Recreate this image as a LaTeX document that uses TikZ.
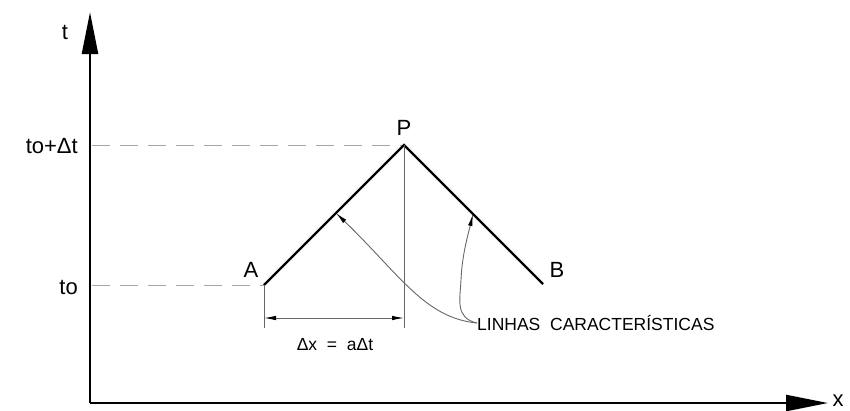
\documentclass[tikz,border=0pt]{standalone}
\usepackage{fontspec}
\setmainfont{Liberation Sans}
\usetikzlibrary{arrows.meta}
\begin{document}
\begin{tikzpicture}[x=1pt,y=-1pt,
  axis/.style={line width=2.4pt,-{Triangle[length=42pt,width=16pt]}},
  charline/.style={line width=2.4pt},
  thinline/.style={line width=0.9pt,gray!80!black},
  guide/.style={line width=1pt,gray!70,dash pattern=on 18pt off 10pt},
  dimarrow/.style={line width=0.9pt,gray!80!black,{Latex[length=12pt,width=4.5pt,black]}-{Latex[length=12pt,width=4.5pt,black]}},
  leader/.style={line width=0.9pt,gray!80!black,-{Latex[length=12pt,width=4.5pt,black]}},
  lbl/.style={font=\fontsize{22}{22}\selectfont,inner sep=0pt},
  small/.style={font=\fontsize{17.5}{17.5}\selectfont,inner sep=0pt}]
\useasboundingbox (0,0) rectangle (850,410);
\coordinate (O) at (90,403);
\coordinate (Ttip) at (90,12);
\coordinate (Xtip) at (828,403);
\coordinate (A) at (264,285);
\coordinate (P) at (404,145);
\coordinate (B) at (543,284);
\coordinate (L1) at (92,145);
\coordinate (L0) at (92,285);
\coordinate (Pd) at (404,328);
\coordinate (Ad) at (264,328);
\coordinate (D1) at (264,318);
\coordinate (D2) at (404,318);
\coordinate (C1) at (336,213);
\coordinate (C2) at (473,214);
% axes
\draw[axis] (O) -- (Ttip);
\draw[axis] (O) -- (Xtip);
% dashed guides
\draw[guide] (L1) -- (P);
\draw[guide] (L0) -- (A);
% characteristic lines
\draw[charline] (A) -- (P) -- (B);
% extension lines and dimension
\draw[thinline] (P) -- (Pd);
\draw[thinline] (A) -- (Ad);
\draw[dimarrow] (D1) -- (D2);
% labels
\node[lbl] (tlab) at (65,32) {t};
\node[lbl] (xlab) at (838,401) {x};
\node[lbl,anchor=east] (t1lab) at (78,146) {to+Δt};
\node[lbl,anchor=east] (t0lab) at (78,287) {to};
\node[lbl] (Plab) at (404,128) {P};
\node[lbl] (Alab) at (251,270) {A};
\node[lbl] (Blab) at (557,270) {B};
\node[small] (dxlab) at (335,345) {Δx\ \ =\ \ aΔt};
\node[small,anchor=west] (txt) at (477,323) {LINHAS\ \ CARACTERÍSTICAS};
% leaders
\draw[leader] (txt.west) .. controls (425,318) and (400,275) .. (C1);
\draw[leader] (txt.west) .. controls (455,318) and (460,300) .. (461,280) .. controls (462,255) and (468,235) .. (C2);
\end{tikzpicture}
\end{document}
